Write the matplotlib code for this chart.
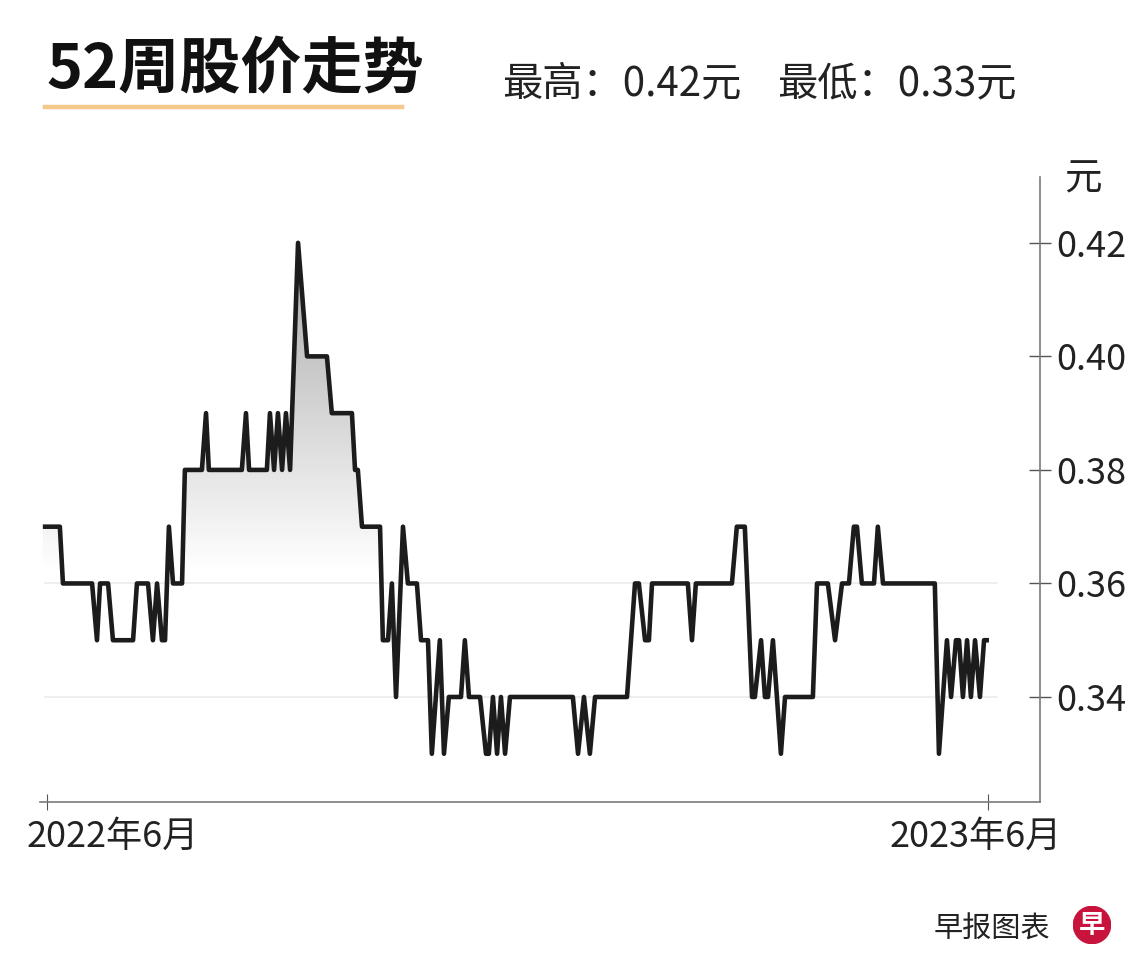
import numpy as np
import matplotlib
matplotlib.use("Agg")
import matplotlib.pyplot as plt
from matplotlib.patches import Polygon, Circle
from matplotlib.lines import Line2D
from matplotlib.transforms import ScaledTranslation

plt.rcParams['font.family'] = ['Noto Sans CJK SC', 'DejaVu Sans']

# ---------------- data ----------------
# days since the "2022年6月" tick
days = [-1.6, 5.0, 6.2, 17.5, 19.4, 20.6, 23.7, 25.6, 33.4, 34.9, 39.2, 41.1, 42.7,
        44.6, 45.8, 47.3, 48.9, 52.4, 53.5, 60.1, 61.7, 62.8, 75.6, 77.2, 78.4, 85.3,
        86.5, 88.1, 89.6, 91.2, 92.7, 94.3, 97.4, 100.9, 108.6, 110.5, 118.3, 119.5,
        120.6, 122.2, 129.2, 130.3, 132.3, 133.8, 135.4, 138.1, 140.0, 143.5, 145.1,
        147.8, 149.3, 152.4, 154.0, 155.9, 160.6, 162.1, 163.7, 168.0, 170.3, 171.4,
        173.0, 174.6, 176.1, 177.7, 179.6, 204.0, 206.0, 208.3, 210.6, 212.6, 225.0,
        228.1, 229.6, 232.0, 233.5, 234.7, 248.6, 250.2, 251.7, 265.7, 267.6, 270.7,
        273.5, 274.6, 277.0, 278.5, 279.7, 281.6, 284.7, 286.3, 297.1, 298.7, 302.9,
        305.7, 308.4, 311.1, 313.0, 314.2, 316.1, 320.8, 322.3, 324.3, 344.4, 346.0,
        349.1, 350.7, 352.6, 353.8, 355.3, 356.9, 358.4, 360.0, 361.9, 363.5, 365.4]
prices = [0.37, 0.37, 0.36, 0.36, 0.35, 0.36, 0.36, 0.35, 0.35, 0.36, 0.36, 0.35, 0.36,
          0.35, 0.35, 0.37, 0.36, 0.36, 0.38, 0.38, 0.39, 0.38, 0.38, 0.39, 0.38, 0.38,
          0.39, 0.38, 0.39, 0.38, 0.39, 0.38, 0.42, 0.40, 0.40, 0.39, 0.39, 0.38,
          0.38, 0.37, 0.37, 0.35, 0.35, 0.36, 0.34, 0.37, 0.36, 0.36, 0.35,
          0.35, 0.33, 0.35, 0.33, 0.34, 0.34, 0.35, 0.34, 0.34, 0.33, 0.33,
          0.34, 0.33, 0.34, 0.33, 0.34, 0.34, 0.33, 0.34, 0.33, 0.34, 0.34,
          0.36, 0.36, 0.35, 0.35, 0.36, 0.36, 0.35, 0.36, 0.36, 0.37, 0.37,
          0.34, 0.34, 0.35, 0.34, 0.34, 0.35, 0.33, 0.34, 0.34, 0.36, 0.36,
          0.35, 0.36, 0.36, 0.37, 0.37, 0.36, 0.36, 0.37, 0.36, 0.36, 0.33,
          0.35, 0.34, 0.35, 0.35, 0.34, 0.35, 0.34, 0.35, 0.34, 0.35, 0.35]
y_ticks = [0.34, 0.36, 0.38, 0.40, 0.42]
y_ticklabels = ['0.34', '0.36', '0.38', '0.40', '0.42']
grid_levels = [0.34, 0.36]
x_ticks = [0, 365]
x_ticklabels = ['2022年6月', '2023年6月']
title = '52周股价走势'
stat_high = '最高：0.42元'
stat_low = '最低：0.33元'
unit = '元'
source = '早报图表'

# ---------------- figure ----------------
W, H = 1140, 974
fig = plt.figure(figsize=(W / 100, H / 100), dpi=100)
fig.patch.set_facecolor('white')

def fx(px):
    return px / W

def fy(py):
    return 1 - py / H

ax = fig.add_axes([fx(40), fy(802), fx(1040) - fx(40), fy(177) - fy(802)])
xmin, xmax = -2.7, 385.2
ymin, ymax = 0.3215, 0.4316

x = np.array(days)
y = np.array(prices)

# gridlines
for t in grid_levels:
    ax.axhline(t, xmin=0.005, xmax=0.957, color='#ebebeb', lw=1.2, zorder=0.5)

# gradient fill under the line
poly = Polygon(np.column_stack([np.r_[x[0], x, x[-1]], np.r_[ymin, y, ymin]]),
               closed=True, facecolor='none', edgecolor='none')
ax.add_patch(poly)
vals = np.linspace(ymin, ymax, 400)
alpha = np.clip(0.40 * (vals - 0.362) / 0.058, 0, 1)
rgba = np.zeros((400, 2, 4))
rgba[..., 0:3] = 0.15
rgba[..., 3] = alpha[:, None]
im = ax.imshow(rgba, extent=[xmin, xmax, ymin, ymax], origin='lower',
               aspect='auto', zorder=1, interpolation='bilinear')
im.set_clip_path(poly)

ax.plot(x, y, color='#1c1c1c', lw=3.3, solid_joinstyle='round',
        solid_capstyle='butt', zorder=3)

ax.set_xlim(xmin, xmax)
ax.set_ylim(ymin, ymax)

for s in ['left', 'top']:
    ax.spines[s].set_visible(False)
for s in ['right', 'bottom']:
    ax.spines[s].set_color('#7a7a7a')
    ax.spines[s].set_linewidth(1.2)

ax.yaxis.tick_right()
ax.set_yticks(y_ticks)
ax.set_yticklabels(y_ticklabels)
ax.tick_params(axis='y', direction='inout', length=16, width=1.0, color='#555555',
               labelsize=26, pad=4, labelcolor='#222222')
ax.set_xticks(x_ticks)
ax.set_xticklabels(x_ticklabels)
ax.tick_params(axis='x', direction='inout', length=12, width=0.8, color='#555555',
               labelsize=26, pad=6, labelcolor='#222222')
xl = ax.get_xticklabels()
xl[0].set_transform(xl[0].get_transform() + ScaledTranslation(0.66, 0, fig.dpi_scale_trans))
xl[1].set_transform(xl[1].get_transform() + ScaledTranslation(-0.12, 0, fig.dpi_scale_trans))

# unit label
fig.text(fx(1083), fy(179), unit, fontsize=27, ha='center', va='center', color='#222222')

# title and underline
fig.text(fx(46), fy(88), title, fontsize=44, weight='bold', ha='left',
         va='baseline', color='#111111')
fig.add_artist(Line2D([fx(45), fx(402)], [fy(107), fy(107)], color='#F4C98A',
                      lw=3.2, transform=fig.transFigure))
fig.text(fx(502), fy(95), stat_high, fontsize=29, ha='left', va='baseline', color='#222222')
fig.text(fx(777), fy(95), stat_low, fontsize=29, ha='left', va='baseline', color='#222222')

# footer
fig.text(fx(934), fy(938), source, fontsize=21, ha='left', va='baseline', color='#222222')
lax = fig.add_axes([fx(1073), fy(944), 38 / W, 38 / H])
lax.set_xlim(-1, 1)
lax.set_ylim(-1, 1)
lax.axis('off')
lax.add_patch(Circle((0, 0), 0.98, color='#C8143C'))
lax.text(0, -0.05, '早', color='white', fontsize=19, weight='bold', ha='center', va='center')

fig.savefig('out.png', dpi=100, facecolor='white')
